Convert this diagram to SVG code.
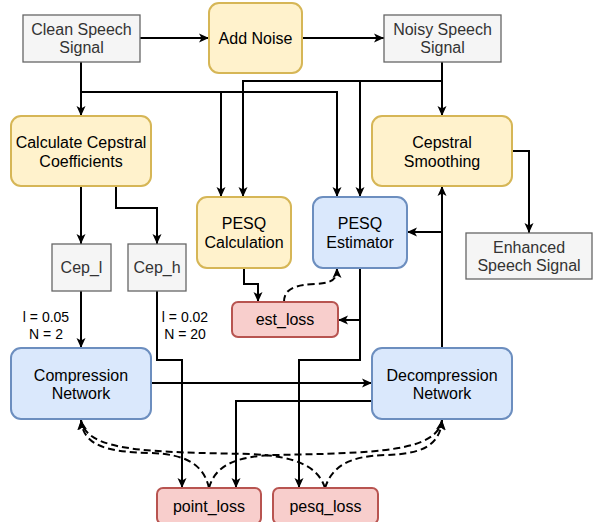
<svg xmlns="http://www.w3.org/2000/svg" width="593" height="522" viewBox="0 0 593 522">
  <style>
    text { font-family: "Liberation Sans", Arial, Helvetica, sans-serif; font-size: 16px; text-anchor: middle; fill: #000; }
    .gray rect { fill: #f5f5f5; stroke: #666666; stroke-width: 1.3; }
    .gray text { fill: #333333; }
    .yellow rect { fill: #fff2cc; stroke: #d6b656; stroke-width: 2; }
    .blue rect { fill: #dae8fc; stroke: #6c8ebf; stroke-width: 2; }
    .red rect { fill: #f8cecc; stroke: #b85450; stroke-width: 2; }
    .edge { fill: none; stroke: #000; stroke-width: 2; }
    .arrow { marker-end: url(#arrowhead); }
    .dashed { stroke-dasharray: 7 4; }
    .label { font-size: 14px; }
  </style>
  <defs>
    <marker id="arrowhead" viewBox="0 0 10 10" refX="10" refY="5" markerWidth="10" markerHeight="10" markerUnits="userSpaceOnUse" orient="auto">
      <path d="M0,0.5 L10,5 L0,9.5 L2.5,5 Z" fill="#000" stroke="none"/>
    </marker>
  </defs>

  <rect x="0" y="0" width="593" height="522" fill="#ffffff"/>

  <!-- connectors -->
  <g id="connectors">
    <path class="edge arrow" d="M140,38 L209,38"/>
    <path class="edge arrow" d="M302,38 L384,38"/>
    <path class="edge arrow" d="M81,62 L81,116"/>
    <path class="edge arrow" d="M81,92 L337,92 L337,197"/>
    <path class="edge arrow" d="M221,92 L221,197"/>
    <path class="edge arrow" d="M442,62 L442,116"/>
    <path class="edge arrow" d="M442,81 L243,81 L243,197"/>
    <path class="edge arrow" d="M360,81 L360,197"/>
    <path class="edge arrow" d="M81,186 L81,244"/>
    <path class="edge arrow" d="M116,186 L116,208 L157,208 L157,244"/>
    <path class="edge arrow" d="M81,291 L81,348"/>
    <path class="edge arrow" d="M157,291 L157,360 L182,360 L182,488"/>
    <path class="edge arrow" d="M244,268 L244,284 L258,284 L258,302"/>
    <path class="edge arrow" d="M360,268 L360,360 L299,360 L299,488"/>
    <path class="edge arrow" d="M360,320 L338,320"/>
    <path class="edge arrow" d="M151,383 L372,383"/>
    <path class="edge arrow" d="M372,401 L236,401 L236,488"/>
    <path class="edge arrow" d="M442,348 L442,186"/>
    <path class="edge arrow" d="M442,232 L407,232"/>
    <path class="edge arrow" d="M512,151 L529,151 L529,233"/>

    <!-- loss feedback (dashed) -->
    <path class="edge arrow dashed" d="M284,302 C284,288 296,285 315,284 C332,283 337,280 337,268"/>
    <path class="edge arrow dashed" d="M209,488 C204,466 188,454 150,453 C110,452 83,447 81,420"/>
    <path class="edge arrow dashed" d="M325,488 C318,466 295,456 250,454 C150,452 86,452 81,420"/>
    <path class="edge arrow dashed" d="M209,488 C215,466 235,456 275,455 C375,453 437,452 442,420"/>
    <path class="edge arrow dashed" d="M325,488 C332,466 350,456 385,455 C420,454 440,447 442,420"/>
  </g>

  <!-- labels on the Cep_l / Cep_h edges -->
  <g id="edge-labels">
    <text class="label" x="46" y="322">l = 0.05</text>
    <text class="label" x="46" y="339">N = 2</text>
    <text class="label" x="185" y="322">l = 0.02</text>
    <text class="label" x="185" y="339">N = 20</text>
  </g>

  <!-- nodes -->
  <g id="clean-speech" class="gray">
    <rect x="23" y="15" width="117" height="47"/>
    <text x="81.5" y="35">Clean Speech</text>
    <text x="81.5" y="53">Signal</text>
  </g>
  <g id="add-noise" class="yellow">
    <rect x="209" y="3" width="93" height="70" rx="10"/>
    <text x="255.5" y="44">Add Noise</text>
  </g>
  <g id="noisy-speech" class="gray">
    <rect x="384" y="15" width="117" height="47"/>
    <text x="442.5" y="35">Noisy Speech</text>
    <text x="442.5" y="53">Signal</text>
  </g>
  <g id="calc-cepstral" class="yellow">
    <rect x="11" y="116" width="140" height="70" rx="10"/>
    <text x="81" y="148">Calculate Cepstral</text>
    <text x="81" y="167">Coefficients</text>
  </g>
  <g id="cepstral-smoothing" class="yellow">
    <rect x="372" y="116" width="140" height="70" rx="10"/>
    <text x="442" y="148">Cepstral</text>
    <text x="442" y="167">Smoothing</text>
  </g>
  <g id="pesq-calculation" class="yellow">
    <rect x="197" y="197" width="94" height="71" rx="10"/>
    <text x="244" y="229">PESQ</text>
    <text x="244" y="248">Calculation</text>
  </g>
  <g id="pesq-estimator" class="blue">
    <rect x="313" y="197" width="94" height="71" rx="10"/>
    <text x="360" y="229">PESQ</text>
    <text x="360" y="248">Estimator</text>
  </g>
  <g id="enhanced-speech" class="gray">
    <rect x="466" y="233" width="126" height="46"/>
    <text x="529" y="253">Enhanced</text>
    <text x="529" y="271">Speech Signal</text>
  </g>
  <g id="cep-l" class="gray">
    <rect x="52" y="244" width="59" height="47"/>
    <text x="81.5" y="273">Cep_l</text>
  </g>
  <g id="cep-h" class="gray">
    <rect x="128" y="244" width="58" height="47"/>
    <text x="157" y="273">Cep_h</text>
  </g>
  <g id="est-loss" class="red">
    <rect x="232" y="302" width="106" height="35" rx="6"/>
    <text x="285" y="325">est_loss</text>
  </g>
  <g id="compression" class="blue">
    <rect x="11" y="348" width="140" height="71" rx="10"/>
    <text x="81" y="381">Compression</text>
    <text x="81" y="399">Network</text>
  </g>
  <g id="decompression" class="blue">
    <rect x="372" y="348" width="140" height="71" rx="10"/>
    <text x="442" y="381">Decompression</text>
    <text x="442" y="399">Network</text>
  </g>
  <g id="point-loss" class="red">
    <rect x="157" y="488" width="104" height="36" rx="6"/>
    <text x="209" y="512">point_loss</text>
  </g>
  <g id="pesq-loss" class="red">
    <rect x="273" y="488" width="105" height="36" rx="6"/>
    <text x="325.5" y="512">pesq_loss</text>
  </g>
</svg>
